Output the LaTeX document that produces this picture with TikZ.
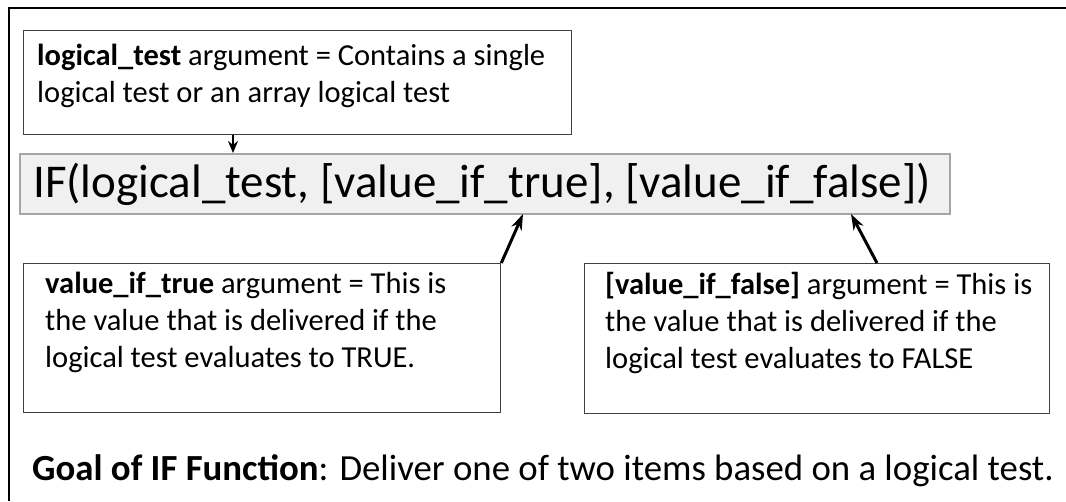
\documentclass[tikz,border=0pt]{standalone}
\usepackage{fontspec}
\setmainfont{Carlito}
\usetikzlibrary{arrows.meta}
\definecolor{boxline}{HTML}{404040}
\definecolor{fgray}{HTML}{F0F0F0}
\definecolor{fline}{HTML}{A6A6A6}
\tikzset{
  argbox/.style={draw=boxline, line width=1.3pt, fill=white, inner sep=0pt, anchor=north west},
  argtext/.style={anchor=north west, inner sep=0pt, align=left, font=\fontsize{30.5}{37}\selectfont},
  callout/.style={-{Stealth[length=16pt,width=11pt]}, line width=3pt},
}
\begin{document}
\begin{tikzpicture}[x=1pt,y=-1pt]
\useasboundingbox (0,0) rectangle (1066,501);
\fill[white] (0,0) rectangle (1066,501);
\coordinate (frameA) at (9,501);
\coordinate (frameB) at (9,8);
\coordinate (frameC) at (1066,8);
\draw[line width=2pt] (frameA) -- (frameB) -- (frameC);
% formula box
\node[draw=fline, fill=fgray, line width=2pt, anchor=north west, minimum width=930pt, minimum height=60pt, inner sep=0pt] (formula) at (19,153) {};
\node[anchor=west, inner sep=0pt, font=\fontsize{47}{52}\selectfont] (ftext) at (33,184) {IF(logical\_test, [value\_if\_true], [value\_if\_false])};
% top box
\node[argbox, minimum width=548pt, minimum height=104pt] (top) at (23,30) {};
\node[argtext] (toptext) at (37,44) {\textbf{logical\_test} argument = Contains a single\\logical test or an array logical test};
% true box
\node[argbox, minimum width=477pt, minimum height=149pt] (tbox) at (23,263) {};
\node[argtext] (ttext) at (45,272) {\textbf{value\_if\_true} argument = This is\\the value that is delivered if the\\logical test evaluates to TRUE.};
% false box
\node[argbox, minimum width=465pt, minimum height=150pt] (fbox) at (584,263) {};
\node[argtext] (fftext) at (605,272) {\textbf{[value\_if\_false]} argument = This is\\the value that is delivered if the\\logical test evaluates to FALSE};
% goal
\node[anchor=west, inner sep=0pt, font=\fontsize{36.8}{42}\selectfont] (goal) at (32,471) {\textbf{Goal of IF Function}: Deliver one of two items based on a logical test.};
% connectors
\coordinate (topTail) at (233,134);
\coordinate (topTip) at (233,152);
\draw[-{Stealth[length=12pt,width=10pt]}, line width=2pt] (top.south -| topTail) -- (formula.north -| topTip);
\coordinate (trueTip) at (523,214);
\coordinate (falseTail) at (877,263);
\coordinate (falseTip) at (851,214);
\draw[callout] (tbox.north east) -- (trueTip);
\draw[callout] (fbox.north -| falseTail) -- (falseTip);
\end{tikzpicture}
\end{document}
